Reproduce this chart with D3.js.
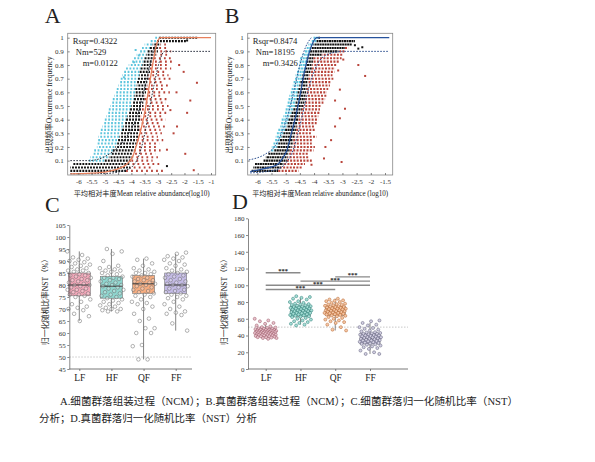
<!DOCTYPE html>
<html lang="zh">
<head>
<meta charset="UTF-8">
<title>NCM and NST</title>
<style>
  body { margin: 0; background: #fff; }
  svg text { font-family: "Liberation Serif", "Noto Sans CJK SC", serif; fill: #222; }
  .axis path, .axis line { stroke: #555; stroke-width: 0.7; }
  .axis text { font-size: 7px; fill: #333; }
  .cat text { font-size: 9.5px; fill: #222; }
</style>
</head>
<body>
<svg width="595" height="462"></svg>
<script src="https://d3js.org/d3.v7.min.js"></script>
<script>
// ---------- A: bacteria NCM ----------
// each row: [occurrence, cyan start, black start, red start, red end] on log10 abundance
var rowsA = [
  [0.025,-6.3,-6.3,-4.2,-2.8],[0.05,-6.3,-6.3,-4.05,-3.2],[0.075,-6.2,-6.2,-4.05,-2.9],
  [0.1,-5.6,-5.0,-4.0,-3.2],[0.125,-5.55,-4.85,-3.95,-3.0],[0.15,-5.45,-4.75,-3.95,-3.1],
  [0.175,-5.4,-4.7,-3.9,-2.9],[0.2,-5.3,-4.6,-3.85,-3.0],[0.225,-5.3,-4.55,-3.8,-2.95],
  [0.25,-5.25,-4.5,-3.8,-2.8],[0.275,-5.25,-4.45,-3.75,-3.0],[0.3,-5.2,-4.4,-3.75,-2.85],
  [0.325,-5.15,-4.35,-3.7,-2.9],[0.35,-5.1,-4.3,-3.7,-2.7],[0.375,-5.05,-4.25,-3.7,-2.9],
  [0.4,-5.0,-4.2,-3.65,-2.7],[0.425,-4.95,-4.15,-3.65,-2.8],[0.45,-4.9,-4.1,-3.6,-2.6],
  [0.475,-4.85,-4.05,-3.6,-2.75],[0.5,-4.8,-4.0,-3.55,-2.6],[0.525,-4.75,-3.95,-3.55,-2.7],
  [0.55,-4.7,-3.9,-3.5,-2.65],[0.575,-4.65,-3.9,-3.5,-2.8],[0.6,-4.6,-3.85,-3.45,-2.55],
  [0.625,-4.55,-3.85,-3.45,-2.7],[0.65,-4.5,-3.8,-3.4,-2.6],[0.675,-4.45,-3.8,-3.4,-2.75],
  [0.7,-4.4,-3.75,-3.35,-2.5],[0.725,-4.35,-3.7,-3.35,-2.6],[0.75,-4.3,-3.7,-3.3,-2.7],
  [0.775,-4.2,-3.65,-3.3,-2.5],[0.8,-4.1,-3.6,-3.25,-2.6],[0.825,-4.0,-3.55,-3.2,-2.4],
  [0.85,-3.9,-3.5,-3.15,-2.5],[0.875,-3.8,-3.45,-3.05,-2.6],[0.9,-3.7,-3.4,-3.0,-2.5],
  [0.925,-3.6,-3.3,-2.95,-2.6],[0.95,-3.5,-3.2,-2.9,-2.7],[0.975,-3.3,-3.05,-1.9,-1.9],
  [1.0,-3.1,-2.95,-1.5,-1.5]
];
var outA = [
  [-1.53,0.67,"red"],[-2.03,0.75,"red"],[-1.9,0.45,"red"],[-1.97,0.15,"red"],[-2.66,0.18,"red"],
  [-2.28,0.35,"red"],[-1.65,0.03,"red"],[-2.41,0.3,"red"],[-1.78,0.54,"red"],[-2.53,0.47,"red"],
  [-2.3,0.6,"red"],[-2.2,0.8,"red"],[-3.84,0.91,"cyan"],[-3.72,0.87,"cyan"],[-4.28,0.71,"cyan"],
  [-3.9,0.82,"cyan"],[-2.66,0.06,"black"],[-1.9,0.98,"black"],[-2.2,0.975,"black"]
];
var fitA = [[-6.3,0.003],[-5.5,0.008],[-4.9,0.02],[-4.5,0.04],[-4.2,0.07],[-3.95,0.13],[-3.75,0.25],
  [-3.6,0.36],[-3.48,0.47],[-3.35,0.62],[-3.2,0.8],[-3.05,0.95],[-2.9,1.0],[-1.0,1.0]];
var upA = [[-6.3,0.1],[-5.6,0.1],[-5.0,0.13],[-4.5,0.2],[-4.1,0.3],[-3.8,0.42],[-3.6,0.55],
  [-3.4,0.72],[-3.2,0.88],[-3.0,0.98],[-2.9,1.0]];
var loA = [[-6.3,0.004],[-5.0,0.006],[-4.2,0.03],[-3.8,0.1],[-3.55,0.25],[-3.35,0.45],
  [-3.15,0.65],[-2.95,0.82],[-2.75,0.9],[-1.0,0.9]];
var statsA = ["Rsqr=0.4322", "Nm=529", "m=0.0122"];
var xTicksA = [-6,-5.5,-5,-4.5,-4,-3.5,-3,-2.5,-2,-1.5,-1];

// ---------- B: fungi NCM ----------
var rowsB = [
  [0.025,-6.2,-6.2,-5.26,-4.55],[0.05,-6.14,-6.14,-5.16,-4.43],[0.075,-6.08,-6.08,-5.08,-4.32],
  [0.1,-5.78,-5.78,-4.96,-4.08],[0.125,-5.7,-5.7,-4.93,-4.2],[0.15,-5.61,-5.61,-4.9,-4.2],
  [0.175,-5.51,-5.4,-4.85,-4.02],[0.2,-5.49,-5.31,-4.79,-3.97],[0.225,-5.43,-5.26,-4.75,-4.08],
  [0.25,-5.37,-5.2,-4.73,-4.08],[0.275,-5.35,-5.14,-4.69,-3.91],[0.3,-5.31,-5.08,-4.67,-4.08],
  [0.325,-5.26,-5.02,-4.63,-3.97],[0.35,-5.2,-4.96,-4.61,-3.97],[0.375,-5.16,-4.93,-4.58,-3.91],
  [0.4,-5.14,-4.9,-4.55,-3.85],[0.425,-5.08,-4.85,-4.52,-3.85],[0.45,-5.02,-4.79,-4.49,-3.79],
  [0.475,-5.0,-4.73,-4.43,-3.79],[0.5,-4.96,-4.67,-4.38,-3.73],[0.525,-4.93,-4.65,-4.34,-3.67],
  [0.55,-4.9,-4.61,-4.32,-3.61],[0.575,-4.87,-4.59,-4.29,-3.55],[0.6,-4.82,-4.58,-4.28,-3.55],
  [0.625,-4.79,-4.55,-4.26,-3.5],[0.65,-4.75,-4.52,-4.25,-3.44],[0.675,-4.72,-4.48,-4.22,-3.4],
  [0.7,-4.67,-4.43,-4.2,-3.32],[0.725,-4.65,-4.41,-4.18,-3.35],[0.75,-4.6,-4.36,-4.13,-3.28],
  [0.775,-4.55,-4.32,-4.08,-3.26],[0.8,-4.53,-4.29,-4.06,-3.2],[0.825,-4.51,-4.27,-4.04,-3.12],
  [0.85,-4.49,-4.26,-4.02,-3.03],[0.875,-4.41,-4.2,-3.73,-2.97],[0.9,-4.32,-4.14,-3.14,-2.91],
  [0.925,-4.26,-4.08,-2.91,-2.79],[0.95,-4.2,-4.02,-2.67,-2.67],[0.975,-4.08,-3.91,-2.56,-2.56],
  [1.0,-4.02,-3.85,-3.79,-3.79]
];
var outB = [
  [-2.44,0.80,"red"],[-2.2,0.72,"red"],[-3.09,0.62,"red"],[-2.91,0.48,"red"],[-3.65,0.116,"red"],
  [-3.03,0.09,"red"],[-3.26,0.54,"red"],[-3.09,0.41,"red"],[-3.26,0.35,"red"],[-3.15,0.76,"red"],
  [-2.97,0.84,"red"],[-3.4,0.25,"red"],[-3.6,0.2,"red"],[-4.09,0.07,"red"],
  [-2.56,0.945,"black"],[-2.44,0.92,"black"],[-2.3,0.93,"black"]
];
var fitB = [[-6.25,0.02],[-5.8,0.04],[-5.3,0.07],[-5.1,0.12],[-4.95,0.18],[-4.8,0.3],[-4.65,0.42],
  [-4.5,0.57],[-4.35,0.74],[-4.2,0.87],[-4.05,0.96],[-3.9,1.0],[-1.35,1.0]];
var upB = [[-6.3,0.105],[-5.7,0.15],[-5.4,0.2],[-5.15,0.3],[-4.9,0.45],[-4.7,0.62],[-4.5,0.8],
  [-4.3,0.93],[-4.1,1.0]];
var loB = [[-6.25,0.01],[-5.4,0.03],[-5.0,0.08],[-4.7,0.2],[-4.45,0.4],[-4.2,0.62],[-3.9,0.8],
  [-3.5,0.88],[-3.0,0.9],[-1.4,0.9]];
var statsB = ["Rsqr=0.8474", "Nm=18195", "m=0.3426"];
var xTicksB = [-6,-5.5,-5,-4.5,-4,-3.5,-3,-2.5,-2,-1.5];
var yTicksNcm = [0.1,0.2,0.3,0.4,0.5,0.6,0.7,0.8,0.9,1];

// ---------- C / D: NST boxplots ----------
var groups = ["LF", "HF", "QF", "FF"];

var nstC = {
  LF: [94,92.5,91.5,91,90.5,90,89.5,89,88.5,88,87.5,87,86.5,86,86,85.5,85,84.5,84,84,83.5,83,82.5,82,82,
       81.5,81,80.5,80,80,79.5,79,78.5,78,78,77.5,77,76.5,76,76,75.5,75,74,73,72,71,70.5,70,69.5,68,67,65],
  HF: [95,94,93,90,88,87.5,87,86.5,86,86,85.5,85,84.5,84,83.5,83,83,82.5,82,81.5,81,80.5,80,80,79.5,79,
       78.5,78,77.5,77,76.5,76,75.5,75,74.5,74,73.5,73,72.5,72,71.5,71,70.5,70,70,69.5,69,69],
  QF: [91,90.5,89,88,87,86.5,86,85.5,85,85,84.5,84,83.5,83,82.5,82,82,81.5,81,80.5,80.5,80,79.5,79,78.5,
       78,77.5,77,76.5,76,75.5,75,74,73,72.5,72,71,70,68,66,65,62,62,60,60,55,54.5,49,49],
  FF: [93.5,93,92,91.5,91,90.5,90,89,88.5,88,87,86.5,86,85.5,85,84.5,84,83.5,83,82.5,82,81.5,81,80.5,80,
       80,79.5,79,78.5,78,77.5,77,76.5,76,75.5,75,74.5,74,73,72,71,70,69,68.5,68,67.5,64,61]
};
var q1C = [75.5, 74.5, 76.5, 76.5];
var medC = [80, 79.5, 80.5, 80];
var q3C = [85, 83.5, 84, 85];
var loC = [65, 69, 49, 61];
var hiC = [94, 95, 91, 93];
var yTicksC = [45,50,55,60,65,70,75,80,85,90,95,100,105];

var nstD = {
  LF: [60,58,57,55,54,52,51,50,49.5,49,48.5,48,48,47.5,47,47,46.5,46.5,46,46,45.5,45.5,45,45,45,44.5,
       44.5,44,44,44,43.5,43.5,43,43,43,42.5,42.5,42,42,41.5,41.5,41,41,40.5,40.5,40,40,39.5,39,39,38.5,
       38,38,37.5,37,37,36],
  HF: [87,86,85,84,83,81,80,79,78,77.5,77,76.5,76,75.5,75,74.5,74,74,73.5,73,72.5,72,72,71.5,71,70.5,
       70,70,69.5,69,69,68.5,68,67.5,67,67,66.5,66,65.5,65,64.5,64,63.5,63,62.5,62,61,60,59,58,57,56,55,
       54,53,52],
  QF: [84,83,82,81.5,81,80,79,78,77.5,77,76.5,76,75.5,75,74.5,74,74,73.5,73,72.5,72,72,71.5,71,70.5,70,
       70,69.5,69,69,68.5,68,67.5,67,67,66.5,66,65.5,65,64.5,64,63.5,63,62,61,60,59,58,57,56,55,53,50,
       47,46],
  FF: [58,57,55,53,52,50,49,48,47,46,45,44,43.5,43,42.5,42,42,41.5,41,40.5,40,40,39.5,39,38.5,38,38,
       37.5,37,36.5,36,36,35.5,35,34.5,34,34,33.5,33,32.5,32,31.5,31,30.5,30,29.5,29,28,27,26,25,24,22,
       20,18,18]
};
var q1D = [41, 63, 64, 30];
var medD = [44, 69, 69, 36];
var q3D = [48, 75, 75, 42];
var loD = [37, 53, 46, 18];
var hiD = [55, 86, 84, 55];
var yTicksD = [0,20,40,60,80,100,120,140,160,180];
var sigPairs = [["LF","HF",115],["QF","FF",110],["HF","FF",105],["LF","FF",100],["LF","QF",95]];

var captionLines = [
  "A.细菌群落组装过程（NCM）；B.真菌群落组装过程（NCM）；C.细菌群落归一化随机比率（NST）",
  "分析；D.真菌群落归一化随机比率（NST）分析"
];

var svg = d3.select("svg");
svg.append("rect").attr("width", 595).attr("height", 462).attr("fill", "#fff");

var dotColors = {cyan: "#5ec5dd", black: "#121212", red: "#b9453b"};

function ncmPanel(id, rows, outs, fit, up, lo, stats, xTicks, xs, frame, fitColor, ciColor, dash, letter, xTitle) {
  var ys = d3.scaleLinear().domain([0, 1]).range([174.3, 37.7]);
  var g = svg.append("g");

  svg.append("clipPath").attr("id", "clip" + id).append("rect")
    .attr("x", frame.l).attr("y", frame.t).attr("width", frame.r - frame.l).attr("height", frame.b - frame.t);
  var plot = g.append("g").attr("clip-path", "url(#clip" + id + ")");

  var segs = [];
  rows.forEach(function (r, i) {
    segs.push({y: r[0], x0: r[1], x1: r[2], c: "cyan", i: i});
    segs.push({y: r[0], x0: r[2], x1: r[3], c: "black", i: i});
    segs.push({y: r[0], x0: r[3], x1: r[4], c: "red", i: i});
  });
  plot.selectAll(".seg").data(segs.filter(function (s) { return s.x1 > s.x0; }))
    .enter().append("line")
    .attr("x1", function (d) { return xs(d.x0); })
    .attr("x2", function (d) { return xs(d.x1); })
    .attr("y1", function (d) { return ys(d.y); })
    .attr("y2", function (d) { return ys(d.y); })
    .attr("stroke", function (d) { return dotColors[d.c]; })
    .attr("stroke-width", 2.1)
    .attr("stroke-dasharray", function (d) { return dash[d.c]; })
    .attr("stroke-dashoffset", function (d) { return (d.i % 3) * 1.3; });

  plot.selectAll(".out").data(outs).enter().append("rect")
    .attr("x", function (d) { return xs(d[0]) - 1; })
    .attr("y", function (d) { return ys(d[1]) - 1; })
    .attr("width", 2).attr("height", 2)
    .attr("fill", function (d) { return dotColors[d[2]]; });

  var line = d3.line().x(function (d) { return xs(d[0]); }).y(function (d) { return ys(d[1]); })
    .curve(d3.curveMonotoneX);
  plot.append("path").attr("d", line(up)).attr("fill", "none")
    .attr("stroke", ciColor).attr("stroke-width", 1).attr("stroke-dasharray", "1.6,1.4");
  plot.append("path").attr("d", line(lo)).attr("fill", "none")
    .attr("stroke", ciColor).attr("stroke-width", 1).attr("stroke-dasharray", "1.6,1.4");
  plot.append("path").attr("d", line(fit)).attr("fill", "none")
    .attr("stroke", fitColor).attr("stroke-width", 1.3);

  g.append("rect").attr("x", frame.l).attr("y", frame.t)
    .attr("width", frame.r - frame.l).attr("height", frame.b - frame.t)
    .attr("fill", "none").attr("stroke", "#888").attr("stroke-width", 0.8);

  g.append("g").attr("class", "axis").attr("transform", "translate(" + frame.l + ",0)")
    .call(d3.axisLeft(ys).tickValues(yTicksNcm).tickSize(-2).tickPadding(4).tickFormat(function (d) { return d; }))
    .call(function (a) { a.select(".domain").remove(); });
  g.append("g").attr("class", "axis").attr("transform", "translate(0," + frame.b + ")")
    .call(d3.axisBottom(xs).tickValues(xTicks).tickSize(-2).tickPadding(4).tickFormat(function (d) { return d; }))
    .call(function (a) { a.select(".domain").remove(); });

  g.selectAll(".stat").data(stats).enter().append("text")
    .attr("x", function (d, i) { return frame.l + 5 + i * 3 + (i > 1 ? 4 : 0); })
    .attr("y", function (d, i) { return frame.t + 11 + i * 11; })
    .attr("font-size", 8.6).text(function (d) { return d; });

  g.append("text").attr("transform", "translate(" + (frame.l - 16) + ",105) rotate(-90)")
    .attr("text-anchor", "middle").attr("font-size", 7.5).attr("textLength", 97)
    .attr("lengthAdjust", "spacingAndGlyphs").text("出现频率Occurrence frequency");
  g.append("text").attr("x", (frame.l + frame.r) / 2).attr("y", 195.5)
    .attr("text-anchor", "middle").attr("font-size", 7.2).attr("textLength", 136)
    .attr("lengthAdjust", "spacingAndGlyphs").text(xTitle);
  g.append("text").attr("x", frame.l - 23).attr("y", 23).attr("font-size", 22).text(letter);
}

ncmPanel("A", rowsA, outA, fitA, upA, loA, statsA, xTicksA,
  d3.scaleLinear().domain([-6, -1]).range([78.3, 211]),
  {l: 67.7, r: 215.7, t: 33.3, b: 175}, "#e8805c", "#2b3140",
  {cyan: "1.8,1.6", black: "1.9,1.1", red: "1.8,3.2"}, "A",
  "平均相对丰度Mean relative abundance(log10)");
ncmPanel("B", rowsB, outB, fitB, upB, loB, statsB, xTicksB,
  d3.scaleLinear().domain([-6, -1.5]).range([257.3, 385]),
  {l: 247.7, r: 392.7, t: 33.3, b: 175}, "#26529c", "#2c4f8f",
  {cyan: "2,0.6", black: "2,0.5", red: "2,1.3"}, "B",
  "平均相对丰度Mean relative abundance (log10)");

function nstPanel(values, q1, med, q3, lo, hi, yTicks, ys, xs, axisX0, axisX1, fills, ptStroke, ptFill, bw, r, jw, letter, letterPos) {
  var g = svg.append("g");
  var base = ys.range()[0];

  g.append("line").attr("x1", axisX0).attr("x2", axisX1).attr("y1", ys(50)).attr("y2", ys(50))
    .attr("stroke", "#bbb").attr("stroke-width", 0.8).attr("stroke-dasharray", "1.5,1.5");

  groups.forEach(function (k, i) {
    var cx = xs(k);
    g.append("line").attr("x1", cx).attr("x2", cx).attr("y1", ys(lo[i])).attr("y2", ys(hi[i]))
      .attr("stroke", "#666").attr("stroke-width", 0.8);
    g.append("rect").attr("x", cx - bw / 2).attr("y", ys(q3[i]))
      .attr("width", bw).attr("height", ys(q1[i]) - ys(q3[i]))
      .attr("fill", fills[i]).attr("stroke", "#777").attr("stroke-width", 0.6);
    g.append("line").attr("x1", cx - bw / 2).attr("x2", cx + bw / 2)
      .attr("y1", ys(med[i])).attr("y2", ys(med[i]))
      .attr("stroke", "#333").attr("stroke-width", 1.1);
    g.selectAll(".pt" + k).data(values[k]).enter().append("circle")
      .attr("cx", function (d, j) { return cx + (((j * 0.618034 + i * 0.31) % 1) - 0.5) * jw; })
      .attr("cy", function (d) { return ys(d); })
      .attr("r", r)
      .attr("fill", ptFill[i]).attr("stroke", ptStroke[i]).attr("stroke-width", 0.5);
  });

  g.append("g").attr("class", "axis").attr("transform", "translate(" + axisX0 + ",0)")
    .call(d3.axisLeft(ys).tickValues(yTicks).tickSize(2).tickPadding(1.5).tickSizeOuter(0));
  var xa = g.append("g").attr("class", "axis cat").attr("transform", "translate(0," + base + ")")
    .call(d3.axisBottom(xs).tickSize(2).tickPadding(3));
  xa.select(".domain").remove();
  xa.selectAll("text").style("font-size", "9.5px");
  g.append("line").attr("x1", axisX0).attr("x2", axisX1).attr("y1", base).attr("y2", base)
    .attr("stroke", "#555").attr("stroke-width", 0.8);

  g.append("text").attr("transform", "translate(" + (axisX0 - 21) + "," + (base - 69) + ") rotate(-90)")
    .attr("text-anchor", "middle").attr("font-size", 7.5).attr("textLength", 90)
    .attr("lengthAdjust", "spacingAndGlyphs").text("归一化随机比率NST（%）");
  g.append("text").attr("x", letterPos[0]).attr("y", letterPos[1]).attr("font-size", 22).text(letter);
  return g;
}

var yC = d3.scaleLinear().domain([45, 105]).range([369, 225]);
var xC = d3.scalePoint().domain(groups).range([79.3, 175.7]);
nstPanel(nstC, q1C, medC, q3C, loC, hiC, yTicksC, yC, xC, 69.3, 192,
  ["#f4a7b9", "#8fd6cf", "#f7ad80", "#c4bbe6"],
  ["#666", "#666", "#666", "#666"],
  ["rgba(255,255,255,0.25)", "rgba(255,255,255,0.25)", "rgba(255,255,255,0.25)", "rgba(255,255,255,0.25)"],
  22, 1.8, 24, "C", [45, 212]);

var yD = d3.scaleLinear().domain([0, 180]).range([369, 218.3]);
var xD = d3.scalePoint().domain(groups).range([265.7, 370]);
var gD = nstPanel(nstD, q1D, medD, q3D, loD, hiD, yTicksD, yD, xD, 248, 408,
  ["#e9b3bf", "#8fcfc6", "#f1b48a", "#c2bdd8"],
  ["#9a5565", "#2f7e76", "#b5642f", "#5d5d78"],
  ["#e7c3cc", "#a6ddd6", "#f5c7a6", "#d3d0e2"],
  20, 1.5, 22, "D", [232, 209]);

gD.selectAll(".sig").data(sigPairs).enter().append("line")
  .attr("x1", function (d) { return xD(d[0]); })
  .attr("x2", function (d) { return xD(d[1]); })
  .attr("y1", function (d) { return yD(d[2]); })
  .attr("y2", function (d) { return yD(d[2]); })
  .attr("stroke", "#8a8a8a").attr("stroke-width", 1.4);
gD.selectAll(".sigt").data(sigPairs).enter().append("text")
  .attr("x", function (d) { return (xD(d[0]) + xD(d[1])) / 2; })
  .attr("y", function (d) { return yD(d[2]) + 0.5; })
  .attr("text-anchor", "middle").attr("font-size", 6.5).attr("font-weight", "bold")
  .text("***");

svg.selectAll(".cap").data(captionLines).enter().append("text")
  .attr("x", function (d, i) { return i === 0 ? 60 : 39; })
  .attr("y", function (d, i) { return 405 + i * 17; })
  .attr("font-size", 10.5)
  .attr("textLength", function (d, i) { return i === 0 ? 458 : 218; })
  .attr("lengthAdjust", "spacingAndGlyphs")
  .text(function (d) { return d; });
</script>
</body>
</html>
